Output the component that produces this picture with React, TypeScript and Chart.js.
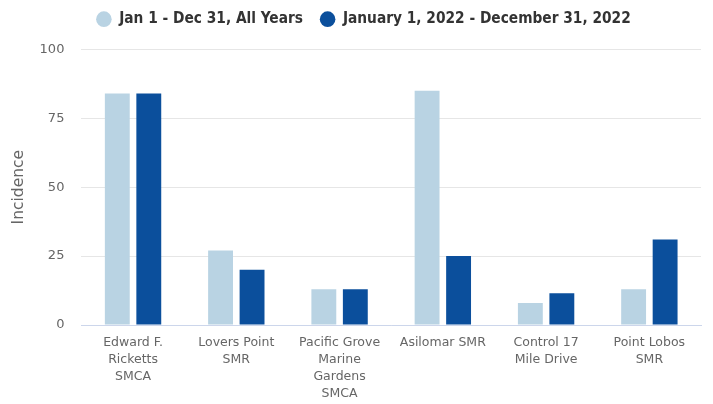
import React, { useEffect, useRef } from "react";
import { Chart, registerables } from "chart.js";

Chart.register(...registerables);

const categories: string[][] = [
  ["Edward F.", "Ricketts", "SMCA"],
  ["Lovers Point", "SMR"],
  ["Pacific Grove", "Marine", "Gardens", "SMCA"],
  ["Asilomar SMR"],
  ["Control 17", "Mile Drive"],
  ["Point Lobos", "SMR"],
];
const allYears: number[] = [84, 27, 13, 85, 8, 13];
const year2022: number[] = [84, 20, 13, 25, 11.5, 31];
const yTicks: number[] = [0, 25, 50, 75, 100];
const seriesNames: string[] = ["Jan 1 - Dec 31, All Years", "January 1, 2022 - December 31, 2022"];

const FONT = "'DejaVu Sans Condensed', 'DejaVu Sans', sans-serif";
const FONT_WIDE = "'DejaVu Sans', sans-serif";

const legendMargin = {
  id: "legendMargin",
  beforeInit(chart: any) {
    const fit = chart.legend.fit;
    chart.legend.fit = function () {
      fit.bind(chart.legend)();
      this.height += 12.5;
    };
  },
  afterLayout(chart: any) {
    chart.legend.left += 8;
    chart.legend.right += 8;
  },
};

export default function App() {
  const ref = useRef<HTMLCanvasElement>(null);
  useEffect(() => {
    document.body.style.margin = "0";
    const chart = new Chart(ref.current!, {
      type: "bar",
      data: {
        labels: categories,
        datasets: [
          {
            label: seriesNames[0],
            data: allYears,
            backgroundColor: "#b9d3e3",
            categoryPercentage: 0.61,
            barPercentage: 0.79,
          },
          {
            label: seriesNames[1],
            data: year2022,
            backgroundColor: "#0b4f9c",
            categoryPercentage: 0.61,
            barPercentage: 0.79,
          },
        ],
      },
      plugins: [legendMargin],
      options: {
        animation: false,
        responsive: true,
        maintainAspectRatio: false,
        layout: { padding: { left: 10, right: 12, top: -5.5, bottom: -7 } },
        plugins: {
          tooltip: { enabled: false },
          legend: {
            position: "top",
            labels: {
              usePointStyle: true,
              pointStyle: "circle",
              boxWidth: 17,
              boxHeight: 11,
              padding: 17,
              color: "#333333",
              font: { family: FONT, size: 15.3, weight: "bold" },
            },
          },
        },
        scales: {
          x: {
            grid: { display: false, drawTicks: false },
            border: { color: "#ccd6eb" },
            ticks: {
              color: "#666666",
              font: { family: FONT_WIDE, size: 12.5, lineHeight: "17px" },
              maxRotation: 0,
              autoSkip: false,
              padding: 9,
            },
          },
          y: {
            min: 0,
            max: 100,
            afterBuildTicks: (axis: any) => {
              axis.ticks = yTicks.map((v) => ({ value: v }));
            },
            grid: { color: "#e6e6e6", drawTicks: false },
            border: { display: false },
            ticks: {
              color: "#666666",
              font: { family: FONT_WIDE, size: 13 },
              padding: 17,
            },
            title: {
              display: true,
              text: "Incidence",
              color: "#666666",
              font: { family: FONT_WIDE, size: 15.5 },
              padding: { top: 0, bottom: -6 },
            },
          },
        },
      },
    });
    return () => chart.destroy();
  }, []);
  return (
    <div style={{ position: "fixed", left: 0, top: 0, width: 713, height: 404 }}>
      <canvas ref={ref} />
    </div>
  );
}
